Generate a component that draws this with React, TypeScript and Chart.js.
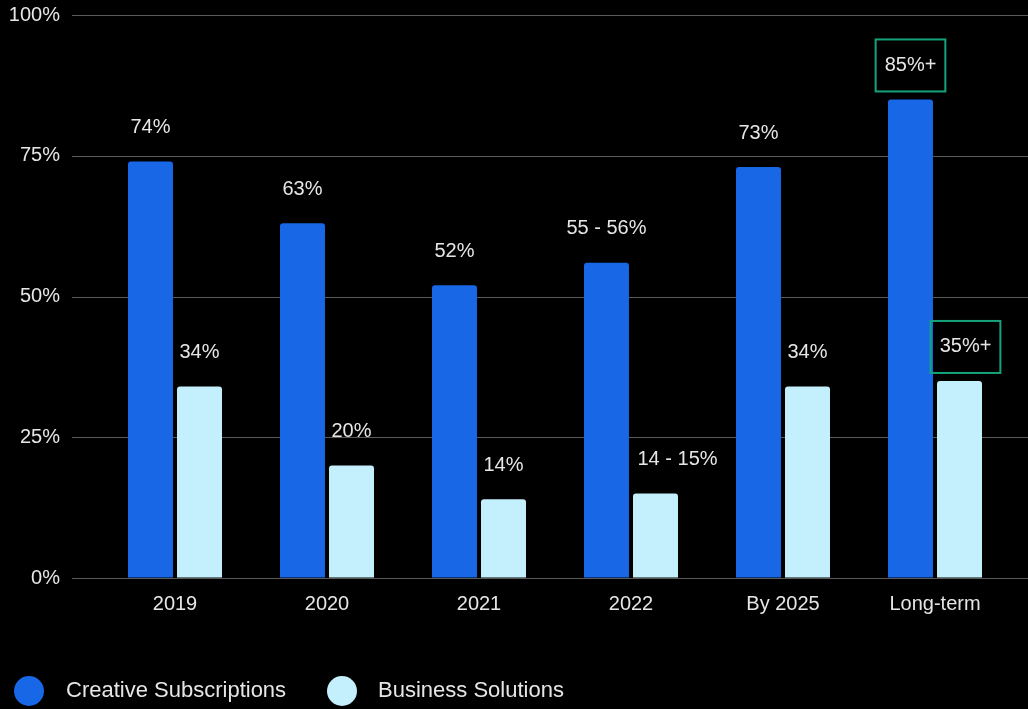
import React, { useEffect, useRef } from "react";
import { Chart, registerables } from "chart.js";

Chart.register(...registerables);

const categories = ["2019", "2020", "2021", "2022", "By 2025", "Long-term"];
const creativeValues = [74, 63, 52, 56, 73, 85];
const businessValues = [34, 20, 14, 15, 34, 35];
const creativeLabels = ["74%", "63%", "52%", "55 - 56%", "73%", "85%+"];
const businessLabels = ["34%", "20%", "14%", "14 - 15%", "34%", "35%+"];
const creativeBoxed = [false, false, false, false, false, true];
const businessBoxed = [false, false, false, false, false, true];
const yTicks = [0, 25, 50, 75, 100];
const seriesNames = ["Creative Subscriptions", "Business Solutions"];

const BLUE = "#1767E6";
const LIGHT = "#C4F0FD";
const TEXT = "#E6E6E6";
const GRID = "#5A5A5A";
const BOX = "#14A37C";
const FONT = "'Liberation Sans', Arial, sans-serif";

// label nudges (style only): [datasetIndex][categoryIndex] -> px
const labelNudge: Record<string, number> = { "1-3": 22, "1-5": 6 };

const labelPlugin = {
  id: "customDraw",
  beforeDatasetsDraw(chart: any) {
    const ctx = chart.ctx;
    const y = chart.scales.y;
    ctx.save();
    ctx.strokeStyle = GRID;
    ctx.lineWidth = 1;
    yTicks.forEach((t) => {
      const py = Math.round(y.getPixelForValue(t)) + 0.5;
      ctx.beginPath();
      ctx.moveTo(72, py);
      ctx.lineTo(chart.width, py);
      ctx.stroke();
    });
    ctx.restore();
  },
  afterDatasetsDraw(chart: any) {
    const ctx = chart.ctx;
    const allLabels = [creativeLabels, businessLabels];
    const allBoxed = [creativeBoxed, businessBoxed];
    ctx.save();
    ctx.font = `20px ${FONT}`;
    ctx.fillStyle = TEXT;
    ctx.textAlign = "center";
    ctx.textBaseline = "middle";
    chart.data.datasets.forEach((_ds: any, di: number) => {
      const meta = chart.getDatasetMeta(di);
      meta.data.forEach((bar: any, i: number) => {
        const tx = bar.x + (labelNudge[`${di}-${i}`] || 0);
        const ty = bar.y - 34;
        ctx.fillStyle = TEXT;
        ctx.fillText(allLabels[di][i], tx, ty);
        if (allBoxed[di][i]) {
          const w = ctx.measureText(allLabels[di][i]).width + 18;
          ctx.strokeStyle = BOX;
          ctx.lineWidth = 2;
          ctx.strokeRect(tx - w / 2, ty - 26, w, 52);
        }
      });
    });
    // legend
    const colors = [BLUE, LIGHT];
    const cx = [29, 342];
    const textX = [66, 378];
    const ly = 691;
    ctx.textAlign = "left";
    ctx.font = `22px ${FONT}`;
    seriesNames.forEach((name, i) => {
      ctx.fillStyle = colors[i];
      ctx.beginPath();
      ctx.arc(cx[i], ly, 15, 0, Math.PI * 2);
      ctx.fill();
      ctx.fillStyle = TEXT;
      ctx.fillText(name, textX[i], ly);
    });
    ctx.restore();
  },
};

export default function App() {
  const ref = useRef<HTMLCanvasElement>(null);
  useEffect(() => {
    if (!ref.current) return;
    const chart = new Chart(ref.current, {
      type: "bar",
      data: {
        labels: categories,
        datasets: [
          {
            label: seriesNames[0],
            data: creativeValues,
            backgroundColor: BLUE,
            borderRadius: 3,
            borderSkipped: "bottom",
            barPercentage: 0.918,
            categoryPercentage: 0.645,
          },
          {
            label: seriesNames[1],
            data: businessValues,
            backgroundColor: LIGHT,
            borderRadius: 3,
            borderSkipped: "bottom",
            barPercentage: 0.918,
            categoryPercentage: 0.645,
          },
        ],
      },
      options: {
        responsive: false,
        animation: false,
        layout: { padding: { left: 0, right: 17, top: 15, bottom: 0 } },
        plugins: {
          legend: { display: false },
          tooltip: { enabled: false },
        },
        scales: {
          x: {
            grid: { display: false },
            border: { display: false },
            ticks: {
              color: TEXT,
              font: { size: 20, family: FONT },
              padding: 6,
            },
            afterFit: (s: any) => {
              s.height = 131;
            },
          },
          y: {
            min: 0,
            max: 100,
            grid: {
              display: true,
              color: "rgba(0,0,0,0)",
              drawOnChartArea: false,
              drawTicks: true,
              tickLength: 39,
            },
            border: { display: false },
            ticks: {
              stepSize: 25,
              color: TEXT,
              font: { size: 20, family: FONT },
              padding: 0,
              callback: (v: any) => v + "%",
            },
            afterFit: (s: any) => {
              s.width = 99;
            },
          },
        },
      },
      plugins: [labelPlugin],
    });
    return () => chart.destroy();
  }, []);
  return (
    <div
      style={{
        position: "absolute",
        left: 0,
        top: 0,
        width: 1028,
        height: 709,
        background: "#000",
        overflow: "hidden",
      }}
    >
      <canvas ref={ref} width={1028} height={709} style={{ width: 1028, height: 709, display: "block" }} />
    </div>
  );
}
